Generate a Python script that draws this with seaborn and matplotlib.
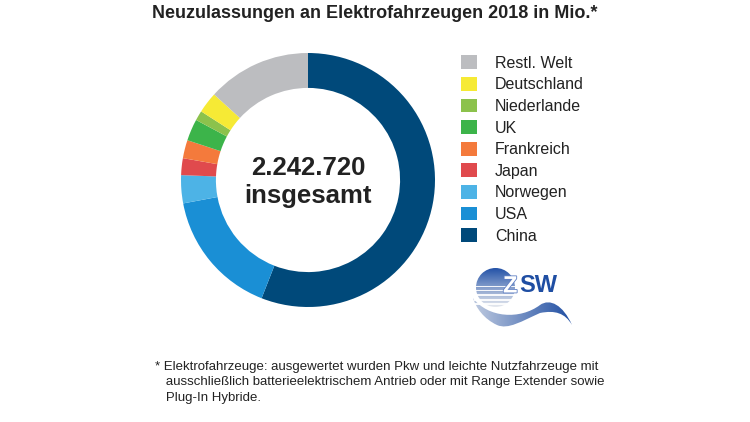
import numpy as np
import matplotlib
matplotlib.use("Agg")
import matplotlib.pyplot as plt
import matplotlib.patheffects as pe
from matplotlib.patches import Patch, Circle, Rectangle, PathPatch
from matplotlib.path import Path
import seaborn as sns

sns.set_theme(style="white")
plt.rcParams['font.family'] = ['Liberation Sans', 'DejaVu Sans']

# --- Daten (in Tausend) ---
laender = ['China', 'USA', 'Norwegen', 'Japan', 'Frankreich', 'UK',
           'Niederlande', 'Deutschland', 'Restl. Welt']
werte = [1255, 361, 80, 48, 52, 62, 28, 60, 297]
farben = ['#00497a', '#1a8fd5', '#4db3e6', '#e04a4d', '#f47a3c', '#3cb44a',
          '#8cc24c', '#f6ea35', '#bcbdc0']
gesamt_zahl = '2.242.720'
gesamt_wort = 'insgesamt'
titel = 'Neuzulassungen an Elektrofahrzeugen 2018 in Mio.*'
fussnote = ['* Elektrofahrzeuge: ausgewertet wurden Pkw und leichte Nutzfahrzeuge mit',
            '   ausschließlich batterieelektrischem Antrieb oder mit Range Extender sowie',
            '   Plug-In Hybride.']

W, H = 750, 422
fig = plt.figure(figsize=(W / 100, H / 100), dpi=100)

# --- Donut ---
cx, cy, r = 308, 180, 127
ax = fig.add_axes([(cx - r) / W, (H - cy - r) / H, 2 * r / W, 2 * r / H])
pal = sns.color_palette(farben)
wedges, _ = ax.pie(werte, colors=pal, startangle=90, counterclock=False,
                   wedgeprops=dict(width=0.275, linewidth=0))
ax.set_xlim(-1, 1); ax.set_ylim(-1, 1)

# --- Overlay in Pixelkoordinaten ---
ov = fig.add_axes([0, 0, 1, 1], zorder=-1)
ov.set_xlim(0, W); ov.set_ylim(H, 0); ov.axis('off')
ov.text(375, 13, titel, ha='center', va='center', fontsize=13,
        fontweight='bold', color='#222222')
ov.text(cx, 168, gesamt_zahl, ha='center', va='center', fontsize=18.5,
        fontweight='bold', color='#222222')
ov.text(cx, 196, gesamt_wort, ha='center', va='center', fontsize=18.5,
        fontweight='bold', color='#222222')
for i, zeile in enumerate(fussnote):
    ov.text(155, 367 + i * 15.5, zeile, ha='left', va='center', fontsize=9.5,
            color='#222222')

# --- Legende ---
handles = [Patch(facecolor=c, edgecolor='none') for c in pal][::-1]
ov.legend(handles, laender[::-1], loc='upper left',
          bbox_to_anchor=(455 / W, 1 - 49 / H), frameon=False, fontsize=11.5,
          handlelength=0.95, handleheight=0.95, handletextpad=1.15,
          labelspacing=0.39, borderaxespad=0, labelcolor='#222222')

# --- ZSW Logo (Annaeherung) ---
lg = fig.add_axes([0, 0, 1, 1], zorder=2)
lg.set_xlim(0, W); lg.set_ylim(H, 0); lg.axis('off')
grad = np.linspace(0, 1, 100).reshape(-1, 1)
img = lg.imshow(grad, extent=(476, 515, 268, 307),
                cmap=sns.light_palette('#2453a8', as_cmap=True),
                vmin=-0.05, vmax=1.0, origin='upper', aspect='auto')
img.set_clip_path(Circle((495.5, 287.5), 19.5, transform=lg.transData))
for yy, hh in [(286, 1.0), (290, 1.3), (294, 1.6), (298.5, 2.0), (303, 2.2)]:
    lg.add_patch(Rectangle((474, yy), 44, hh, color='white', lw=0, alpha=0.9))

C4 = Path.CURVE4
verts = [(473, 298),
         (488, 318), (520, 320), (540, 305),
         (550, 298), (563, 305), (572, 325),
         (565, 313), (555, 310), (540, 313),
         (522, 321), (508, 330), (497, 325),
         (484, 319), (476, 308), (473, 298)]
codes = [Path.MOVETO] + [C4] * 15
swoosh = PathPatch(Path(verts, codes), facecolor='none', edgecolor='none')
lg.add_patch(swoosh)
hgrad = np.linspace(0, 1, 100).reshape(1, -1)
simg = lg.imshow(hgrad, extent=(472, 573, 296, 330),
                 cmap=sns.light_palette('#1f4ea3', as_cmap=True),
                 vmin=-0.3, vmax=1.0, origin='upper', aspect='auto')
simg.set_clip_path(swoosh)
lg.set_xlim(0, W); lg.set_ylim(H, 0)

lg.text(503, 286, 'Z', ha='left', va='center', fontsize=17, fontweight='bold',
        color='white',
        path_effects=[pe.withStroke(linewidth=1.2, foreground='#5f7fc4')])
lg.text(519, 286, 'SW', ha='left', va='center', fontsize=17, fontweight='bold',
        color='#1f4ea3')

fig.savefig('out.png', dpi=100)
